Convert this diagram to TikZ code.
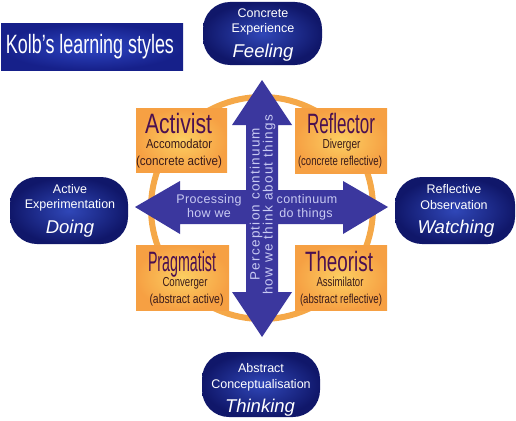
\documentclass[tikz,border=0pt]{standalone}
\usepackage{fontspec}
\setmainfont{Liberation Sans}
\usetikzlibrary{shapes.misc}
\definecolor{pillout}{HTML}{10176A}
\definecolor{pillin}{HTML}{3047B8}
\definecolor{titout}{HTML}{16208A}
\definecolor{titin}{HTML}{2E46C4}
\definecolor{arrcol}{HTML}{3B379E}
\definecolor{arrtext}{HTML}{C8CAF2}
\definecolor{orout}{HTML}{F6A043}
\definecolor{orin}{HTML}{FCCF62}
\definecolor{ringcol}{HTML}{F5A848}
\definecolor{namecol}{HTML}{4A1050}
\definecolor{subcol}{HTML}{3A1A1A}
\newcommand\kfit[2]{\resizebox{#1}{\height}{#2}}
\tikzset{
  pill/.style={shade, inner color=pillin, outer color=pillout, rounded corners=27pt, inner sep=0pt},
  obox/.style={shade, inner color=orin, outer color=orout, inner sep=0pt},
  ptext/.style={anchor=base, text=white, font=\fontsize{12.5}{14}\selectfont, inner sep=0pt},
  pbig/.style={anchor=base, text=white, font=\fontsize{18.5}{20}\selectfont\itshape, inner sep=0pt},
  oname/.style={anchor=base, text=namecol, font=\fontsize{28}{30}\selectfont, inner sep=0pt},
  osub/.style={anchor=base, text=subcol, font=\fontsize{13}{15}\selectfont, inner sep=0pt},
  atext/.style={anchor=base, text=arrtext, font=\fontsize{12.5}{14}\selectfont\addfontfeature{LetterSpace=3}, inner sep=0pt},
  vtext/.style={anchor=base, rotate=90, text=arrtext, font=\fontsize{13.5}{15}\selectfont\addfontfeature{LetterSpace=9}, inner sep=0pt},
  ringline/.style={draw=ringcol, line width=6pt},
}
\begin{document}
\begin{tikzpicture}[x=1pt,y=-1pt]
\useasboundingbox (0,0) rectangle (516,420);
\fill[white] (0,0) rectangle (516,420);

% title
\node[shade, inner color=titin, outer color=titout, minimum width=182pt, minimum height=46pt, inner sep=0pt] (titlebox) at (92,47) {};
\node[anchor=base, text=white, font=\fontsize{26.5}{28}\selectfont, inner sep=0pt] (title) at (90,53) {\kfit{168pt}{Kolb’s learning styles}};

% ring
\draw[ringline] (262,208) circle[radius=111];

% orange boxes
\node[obox, minimum width=91pt, minimum height=64pt] (actbox) at (181.5,140) {};
\node[obox, minimum width=92pt, minimum height=65pt] (refbox) at (341,140.5) {};
\node[obox, minimum width=93pt, minimum height=65pt] (prabox) at (182.5,277.5) {};
\node[obox, minimum width=92pt, minimum height=65pt] (thebox) at (341,277.5) {};

\node[oname] (act) at (178.5,133) {\kfit{67pt}{Activist}};
\node[osub] (acc) at (179,148) {\kfit{66pt}{Accomodator}};
\node[osub] (acca) at (179,165) {\kfit{86pt}{(concrete active)}};

\node[oname] (ref) at (341,133) {\kfit{68pt}{Reflector}};
\node[osub] (div) at (341.5,148) {\kfit{38pt}{Diverger}};
\node[osub] (divr) at (340,165) {\kfit{84pt}{(concrete reflective)}};

\node[oname] (pra) at (182,271) {\kfit{68pt}{Pragmatist}};
\node[osub] (con) at (185,286) {\kfit{45pt}{Converger}};
\node[osub] (cona) at (186.5,303) {\kfit{74pt}{(abstract active)}};

\node[oname] (the) at (339,271) {\kfit{68pt}{Theorist}};
\node[osub] (ass) at (340,286) {\kfit{47pt}{Assimilator}};
\node[osub] (assr) at (341,303) {\kfit{82pt}{(abstract reflective)}};

% cross arrows
\fill[arrcol] (262,80) -- (292,125) -- (278,125) -- (278,190) -- (343,190) -- (343,181)
  -- (388,207) -- (343,234) -- (343,224) -- (278,224) -- (278,292) -- (292,292)
  -- (262,337) -- (232,292) -- (246,292) -- (246,224) -- (180,224) -- (180,234)
  -- (135,207) -- (180,181) -- (180,190) -- (246,190) -- (246,125) -- (232,125) -- cycle;

\node[atext] (proc) at (209,203) {Processing};
\node[atext] (howwe) at (209,217) {how we};
\node[atext] (cont) at (307,203) {continuum};
\node[atext] (dothings) at (306,217) {do things};
\node[vtext] (perc) at (259.5,204) {Perception continuum};
\node[vtext] (think) at (272.5,205) {how we think about things};

% pills
\node[pill, minimum width=119pt, minimum height=63pt] (ce) at (262.5,33.5) {};
\node[ptext] (ce1) at (263,18) {Concrete};
\node[ptext] (ce2) at (263,33) {Experience};
\node[pbig] (ce3) at (263,57) {Feeling};

\node[pill, minimum width=118pt, minimum height=67pt] (ae) at (69,210.5) {};
\node[ptext] (ae1) at (70,193) {Active};
\node[ptext] (ae2) at (70,208) {Experimentation};
\node[pbig] (ae3) at (70,233) {Doing};

\node[pill, minimum width=120pt, minimum height=67pt] (ro) at (455,210.5) {};
\node[ptext] (ro1) at (454,193) {Reflective};
\node[ptext] (ro2) at (454,209) {Observation};
\node[pbig] (ro3) at (456,233) {Watching};

\node[pill, minimum width=118pt, minimum height=65pt] (ac) at (261,384.5) {};
\node[ptext] (ac1) at (261,372) {Abstract};
\node[ptext] (ac2) at (261,388) {Conceptualisation};
\node[pbig] (ac3) at (260,412) {Thinking};
\end{tikzpicture}
\end{document}
